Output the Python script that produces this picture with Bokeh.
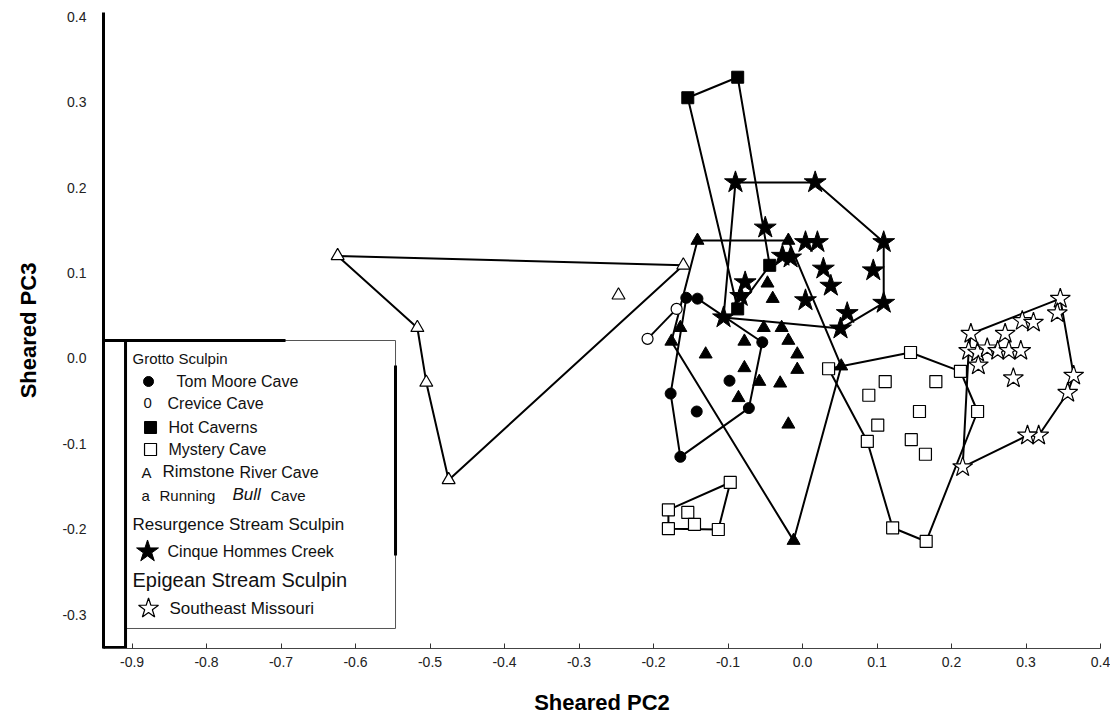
from bokeh.plotting import figure
from bokeh.models import Range1d, FixedTicker, Label
from bokeh.embed import file_html
from bokeh.resources import INLINE

# ---------------- data: (Sheared PC2, Sheared PC3) ----------------
# outline vertices first (in drawing order), then interior points
tom_moore_x = [-0.156, -0.141, -0.054, -0.072, -0.164, -0.177, -0.098, -0.142]
tom_moore_y = [0.071, 0.070, 0.019, -0.058, -0.115, -0.041, -0.026, -0.062]
tom_moore_outline = 6

crevice_x = [-0.169, -0.208]
crevice_y = [0.058, 0.023]
crevice_outline = 2

hot_caverns_x = [-0.154, -0.087, -0.044, -0.087]
hot_caverns_y = [0.305, 0.329, 0.109, 0.058]
hot_caverns_outline = 4

mystery_a_x = [-0.097, -0.180, -0.180, -0.113, -0.154, -0.145]
mystery_a_y = [-0.145, -0.177, -0.199, -0.200, -0.180, -0.194]
mystery_a_outline = 4

mystery_b_x = [0.035, 0.145, 0.212, 0.235, 0.166, 0.121, 0.087,
               0.111, 0.179, 0.089, 0.157, 0.101, 0.146, 0.165]
mystery_b_y = [-0.012, 0.007, -0.015, -0.062, -0.214, -0.198, -0.097,
               -0.027, -0.027, -0.043, -0.062, -0.078, -0.095, -0.112]
mystery_b_outline = 7

rimstone_x = [-0.624, -0.160, -0.475, -0.505, -0.517, -0.247]
rimstone_y = [0.120, 0.109, -0.142, -0.028, 0.036, 0.074]
rimstone_outline = 5

running_bull_x = [-0.141, -0.019, 0.052, -0.012, -0.176,
                  -0.164, -0.130, -0.078, -0.052, -0.028, -0.047, -0.040, -0.019,
                  -0.007, -0.007, -0.078, -0.058, -0.030, -0.086, -0.019]
running_bull_y = [0.138, 0.138, -0.009, -0.213, 0.020,
                  0.036, 0.005, 0.020, 0.036, 0.036, 0.088, 0.070, 0.021,
                  0.005, -0.013, -0.011, -0.027, -0.029, -0.046, -0.077]
running_bull_outline = 5

cinque_x = [-0.090, 0.017, 0.109, 0.109, 0.051, -0.106,
            -0.050, 0.004, 0.020, -0.027, -0.016, 0.028, 0.095, 0.038,
            -0.077, -0.083, 0.004, 0.060]
cinque_y = [0.206, 0.206, 0.136, 0.065, 0.035, 0.048,
            0.153, 0.136, 0.136, 0.120, 0.118, 0.105, 0.103, 0.085,
            0.089, 0.073, 0.068, 0.053]
cinque_outline = 6

se_missouri_x = [0.226, 0.346, 0.364, 0.356, 0.317, 0.302, 0.215, 0.223,
                 0.342, 0.295, 0.310, 0.272, 0.235, 0.248, 0.262, 0.277,
                 0.293, 0.236, 0.283]
se_missouri_y = [0.029, 0.070, -0.020, -0.040, -0.090, -0.090, -0.127, 0.009,
                 0.053, 0.044, 0.042, 0.029, 0.007, 0.012, 0.009, 0.009,
                 0.009, -0.008, -0.023]
se_missouri_outline = 8

x_ticks = [-0.9, -0.8, -0.7, -0.6, -0.5, -0.4, -0.3, -0.2, -0.1, 0.0, 0.1, 0.2, 0.3, 0.4]
x_tick_labels = ["-0.9", "-0.8", "-0.7", "-0.6", "-0.5", "-0.4", "-0.3", "-0.2",
                 "-0.1", "0.0", "0.1", "0.2", "0.3", "0.4"]
y_ticks = [0.4, 0.3, 0.2, 0.1, 0.0, -0.1, -0.2, -0.3]
y_tick_labels = ["0.4", "0.3", "0.2", "0.1", "0.0", "-0.1", "-0.2", "-0.3"]

# ---------------- figure ----------------
FONT = "Liberation Sans"
p = figure(width=1110, height=722, output_backend="svg", toolbar_location=None,
           x_range=Range1d(-0.9383, 0.4), y_range=Range1d(-0.3392, 0.4047),
           min_border_left=103, min_border_right=10, min_border_top=12,
           min_border_bottom=74)
p.outline_line_color = None
p.xgrid.visible = False
p.ygrid.visible = False
p.background_fill_color = "white"

p.xaxis.ticker = FixedTicker(ticks=x_ticks)
p.xaxis.major_label_overrides = {t: l for t, l in zip(x_ticks, x_tick_labels)}
p.xaxis.minor_tick_line_color = None
p.xaxis.major_tick_in = 5
p.xaxis.major_tick_out = 0
p.xaxis.major_tick_line_color = "#333333"
p.xaxis.axis_line_color = "#444444"
p.xaxis.axis_line_width = 1
p.xaxis.major_label_standoff = 8
p.xaxis.major_label_text_font = FONT
p.xaxis.major_label_text_font_size = "14px"
p.xaxis.major_label_text_color = "#222222"
p.xaxis.axis_label = "Sheared PC2"
p.xaxis.axis_label_text_font = FONT
p.xaxis.axis_label_text_font_size = "22px"
p.xaxis.axis_label_text_font_style = "bold"
p.xaxis.axis_label_text_color = "black"
p.xaxis.axis_label_standoff = 20

p.yaxis.ticker = FixedTicker(ticks=y_ticks)
p.yaxis.major_label_overrides = {t: l for t, l in zip(y_ticks, y_tick_labels)}
p.yaxis.minor_tick_line_color = None
p.yaxis.major_tick_line_color = None
p.yaxis.major_tick_in = 0
p.yaxis.major_tick_out = 0
p.yaxis.axis_line_width = 3
p.yaxis.axis_line_color = "black"
p.yaxis.major_label_standoff = 17
p.yaxis.major_label_text_font = FONT
p.yaxis.major_label_text_font_size = "14px"
p.yaxis.major_label_text_color = "#222222"
p.yaxis.axis_label = "Sheared PC3"
p.yaxis.axis_label_text_font = FONT
p.yaxis.axis_label_text_font_size = "22px"
p.yaxis.axis_label_text_font_style = "bold"
p.yaxis.axis_label_text_color = "black"
p.yaxis.axis_label_standoff = 18


def closed(xs, ys, n):
    ox = list(xs[:n])
    oy = list(ys[:n])
    if n > 2:
        ox.append(xs[0])
        oy.append(ys[0])
    return ox, oy


groups = [
    (tom_moore_x, tom_moore_y, tom_moore_outline),
    (crevice_x, crevice_y, crevice_outline),
    (hot_caverns_x, hot_caverns_y, hot_caverns_outline),
    (mystery_a_x, mystery_a_y, mystery_a_outline),
    (mystery_b_x, mystery_b_y, mystery_b_outline),
    (rimstone_x, rimstone_y, rimstone_outline),
    (running_bull_x, running_bull_y, running_bull_outline),
    (cinque_x, cinque_y, cinque_outline),
    (se_missouri_x, se_missouri_y, se_missouri_outline),
]
for gx, gy, n in groups:
    ox, oy = closed(gx, gy, n)
    p.line(ox, oy, line_color="black", line_width=2)

# markers
p.scatter(running_bull_x, running_bull_y, marker="triangle", size=13,
          fill_color="black", line_color="black")
p.scatter(tom_moore_x, tom_moore_y, marker="circle", size=11,
          fill_color="black", line_color="black")
p.scatter(crevice_x, crevice_y, marker="circle", size=11,
          fill_color="white", line_color="black", line_width=1.2)
p.scatter(hot_caverns_x, hot_caverns_y, marker="square", size=12,
          fill_color="black", line_color="black")
p.scatter(mystery_a_x + mystery_b_x, mystery_a_y + mystery_b_y, marker="square",
          size=12, fill_color="white", line_color="black", line_width=1.2)
p.scatter(rimstone_x, rimstone_y, marker="triangle", size=13,
          fill_color="white", line_color="black", line_width=1.2)
p.scatter(cinque_x, cinque_y, marker="star", size=23,
          fill_color="black", line_color="black")
p.scatter(se_missouri_x, se_missouri_y, marker="star", size=21,
          fill_color="white", line_color="black", line_width=1.2)


# ---------------- legend box (layout helpers: page pixel -> data) ----------------
def dx(px):
    return (px - 802) / 745.0


def dy(py):
    return (358 - py) / 855.0


p.quad(left=dx(125), right=dx(395), top=dy(340), bottom=dy(628),
       fill_color="white", line_color="#555555", line_width=1)
p.segment(x0=[dx(101), dx(125), dx(101), dx(395)],
          y0=[dy(340), dy(340), dy(647), dy(365)],
          x1=[dx(285), dx(125), dx(125), dx(395)],
          y1=[dy(340), dy(648), dy(647), dy(555)],
          line_color="black", line_width=3)

legend_rows = [
    ("Grotto  Sculpin", 132, 358, "15px", "normal"),
    ("Tom Moore Cave", 176, 381, "16px", "normal"),
    ("0", 143, 403, "15px", "normal"),
    ("Crevice  Cave", 167, 403, "16px", "normal"),
    ("Hot  Caverns", 168, 427, "16px", "normal"),
    ("Mystery  Cave", 168, 449, "16px", "normal"),
    ("A", 141, 472, "15px", "normal"),
    ("Rimstone", 162, 471, "17px", "normal"),
    ("River  Cave", 239, 472, "16px", "normal"),
    ("a", 141, 495, "15px", "normal"),
    ("Running", 159, 495, "15px", "normal"),
    ("Bull", 232, 494, "17px", "italic"),
    ("Cave", 270, 495, "15px", "normal"),
    ("Resurgence    Stream    Sculpin", 132, 524, "17px", "normal"),
    ("Cinque  Hommes  Creek", 167, 551, "16px", "normal"),
    ("Epigean Stream Sculpin", 132, 580, "20px", "normal"),
    ("Southeast Missouri", 169, 608, "17px", "normal"),
]
for txt, px, py, fs, style in legend_rows:
    p.add_layout(Label(x=dx(px), y=dy(py), text=txt, text_font=FONT,
                       text_font_size=fs, text_font_style=style,
                       text_baseline="middle", text_align="left",
                       text_color="#111111"))

p.scatter([dx(148)], [dy(381)], marker="circle", size=10, fill_color="black",
          line_color="black")
p.scatter([dx(150)], [dy(427)], marker="square", size=12, fill_color="black",
          line_color="black")
p.scatter([dx(150)], [dy(449)], marker="square", size=12, fill_color="white",
          line_color="black", line_width=1.2)
p.scatter([dx(147)], [dy(551)], marker="star", size=23, fill_color="black",
          line_color="black")
p.scatter([dx(148)], [dy(608)], marker="star", size=21, fill_color="white",
          line_color="black", line_width=1.2)

open("out.html", "w").write(file_html(p, INLINE))
